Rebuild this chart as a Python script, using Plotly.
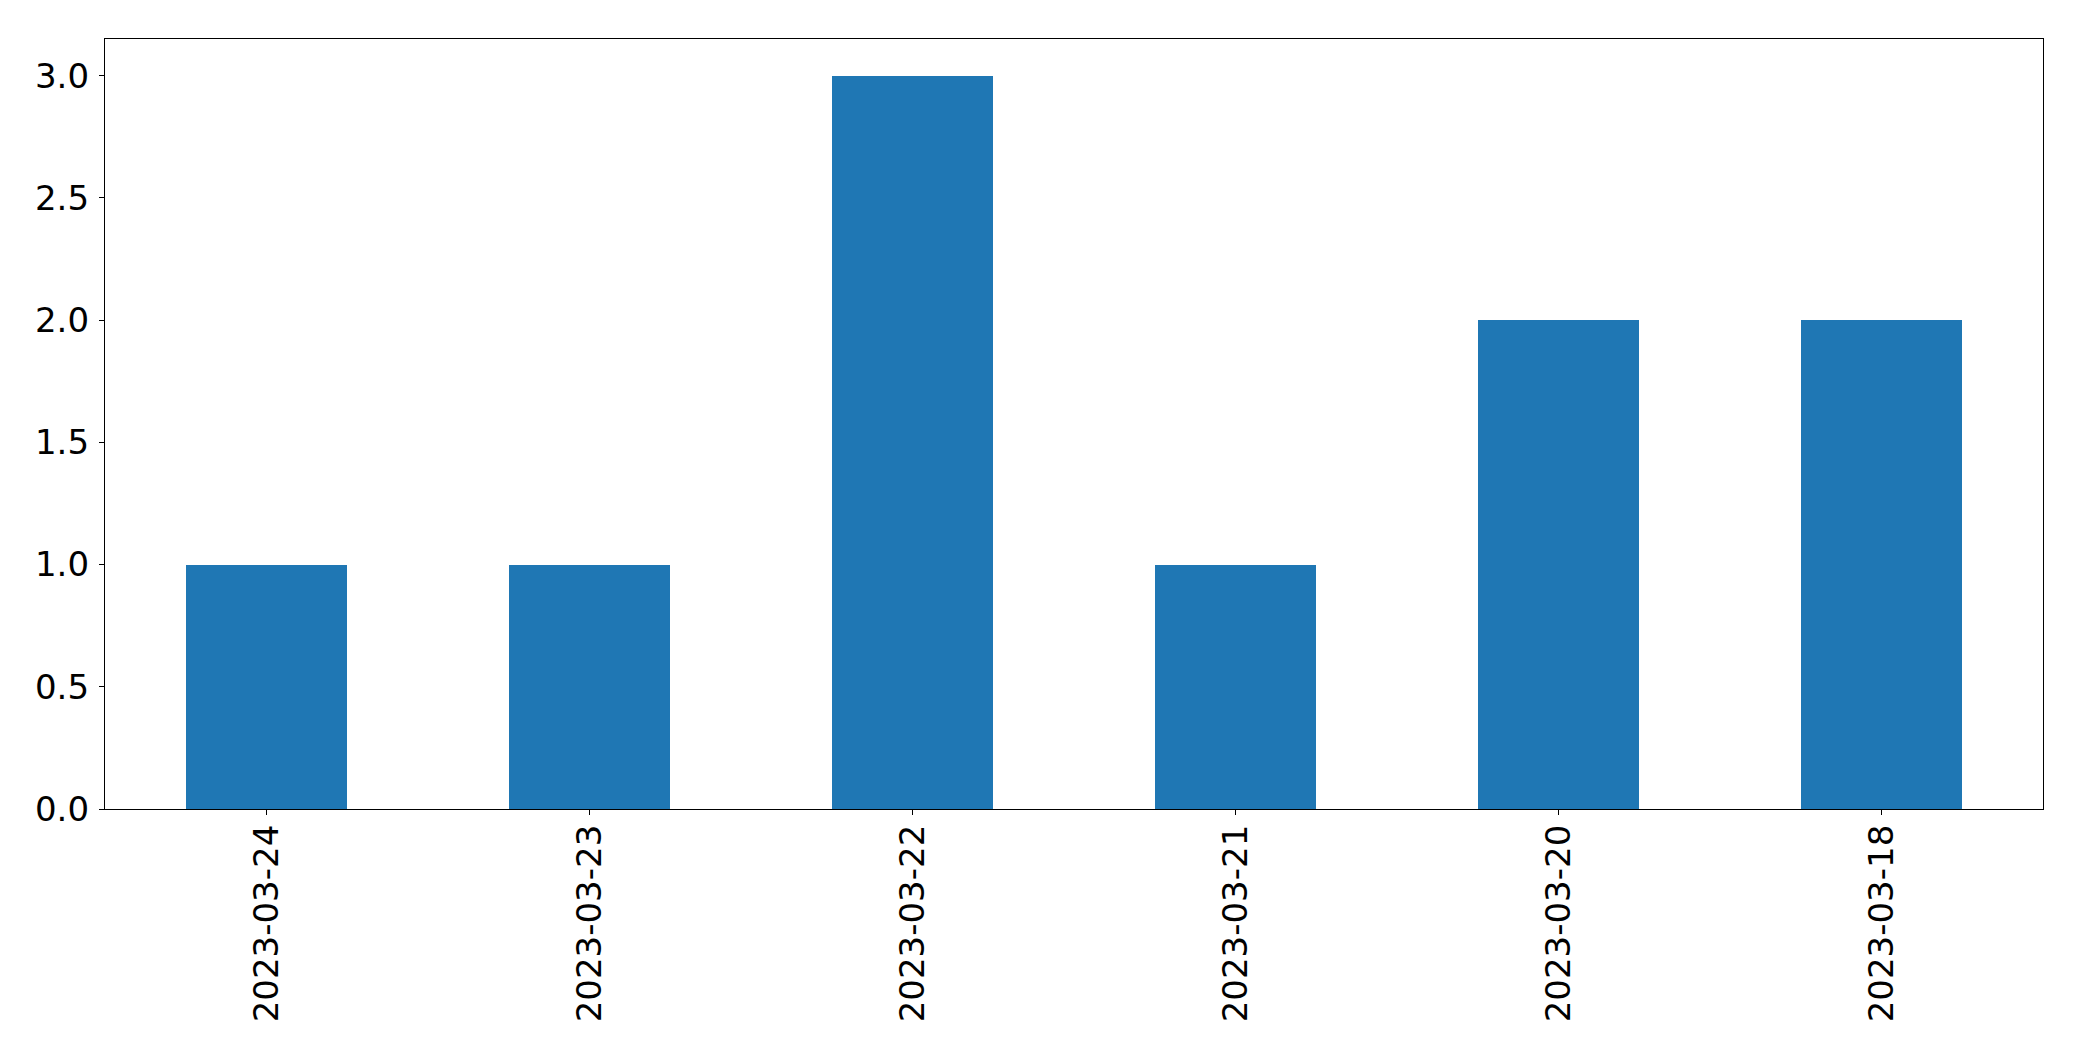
import plotly.graph_objects as go

categories = ["2023-03-24", "2023-03-23", "2023-03-22", "2023-03-21", "2023-03-20", "2023-03-18"]
values = [1, 1, 3, 1, 2, 2]
y_ticks = [0.0, 0.5, 1.0, 1.5, 2.0, 2.5, 3.0]
y_tick_labels = ["0.0", "0.5", "1.0", "1.5", "2.0", "2.5", "3.0"]

fig = go.Figure(go.Bar(x=categories, y=values, marker=dict(color="#1f77b4", line=dict(width=0)), width=0.5))

font = dict(family="DejaVu Sans", size=34, color="black")
fig.update_layout(
    width=2082, height=1061,
    margin=dict(l=105, r=39, t=39, b=252, pad=0),
    paper_bgcolor="white", plot_bgcolor="white",
    font=font, showlegend=False, bargap=0,
)
fig.update_xaxes(
    type="category", range=[-0.5, 5.5], tickangle=-90,
    showline=True, linecolor="black", linewidth=1.3, mirror=True,
    ticks="outside", ticklen=5, tickcolor="black", tickwidth=1.3,
    showgrid=False, zeroline=False, tickfont=font, ticklabelstandoff=-4,
)
fig.update_yaxes(
    range=[0, 3.15], tickvals=y_ticks, ticktext=y_tick_labels,
    showline=True, linecolor="black", linewidth=1.3, mirror=True,
    ticks="outside", ticklen=5, tickcolor="black", tickwidth=1.3,
    showgrid=False, zeroline=False, tickfont=font, ticklabelstandoff=3,
)
fig.write_html("out.html", config={"displayModeBar": False})

with open("out.html", "r", encoding="utf-8") as f:
    html = f.read()
html = html.replace("<head>", "<head><style>html,body{margin:0;padding:0;overflow:hidden;}</style>", 1)
with open("out.html", "w", encoding="utf-8") as f:
    f.write(html)
